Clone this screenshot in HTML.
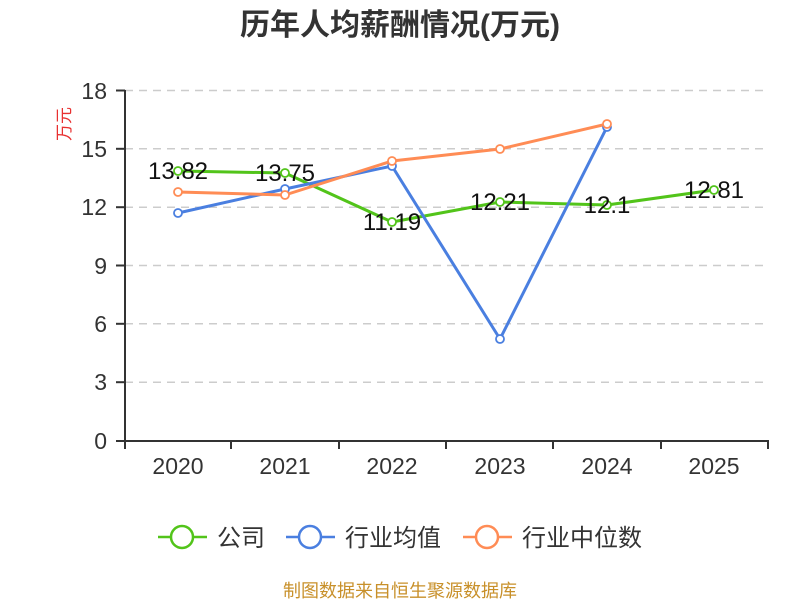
<!DOCTYPE html>
<html><head><meta charset="utf-8"><style>
html,body{margin:0;padding:0;background:#fff;}
svg{display:block;font-family:"Liberation Sans","Noto Sans CJK SC",sans-serif;}
</style></head><body>
<svg width="800" height="600" viewBox="0 0 800 600" xmlns="http://www.w3.org/2000/svg">
<text x="400" y="35" text-anchor="middle" font-size="30" font-weight="bold" fill="#333">历年人均薪酬情况(万元)</text>
<text transform="translate(70,124) rotate(-90)" text-anchor="middle" font-size="17" fill="#e83030">万元</text>
<g stroke="#ccc" stroke-width="1.5" stroke-dasharray="8,6">
<line x1="125" y1="90.5" x2="768" y2="90.5"/>
<line x1="125" y1="148.8" x2="768" y2="148.8"/>
<line x1="125" y1="207.2" x2="768" y2="207.2"/>
<line x1="125" y1="265.5" x2="768" y2="265.5"/>
<line x1="125" y1="323.8" x2="768" y2="323.8"/>
<line x1="125" y1="382.2" x2="768" y2="382.2"/>
</g>
<g stroke="#333" stroke-width="2">
<line x1="125" y1="90" x2="125" y2="441"/>
<line x1="124" y1="441" x2="769" y2="441"/>
<line x1="116" y1="90.5" x2="125" y2="90.5"/>
<line x1="116" y1="148.8" x2="125" y2="148.8"/>
<line x1="116" y1="207.2" x2="125" y2="207.2"/>
<line x1="116" y1="265.5" x2="125" y2="265.5"/>
<line x1="116" y1="323.8" x2="125" y2="323.8"/>
<line x1="116" y1="382.2" x2="125" y2="382.2"/>
<line x1="116" y1="441" x2="125" y2="441"/>
<line x1="125" y1="441" x2="125" y2="449"/>
<line x1="231" y1="441" x2="231" y2="449"/>
<line x1="339" y1="441" x2="339" y2="449"/>
<line x1="446" y1="441" x2="446" y2="449"/>
<line x1="553" y1="441" x2="553" y2="449"/>
<line x1="661" y1="441" x2="661" y2="449"/>
<line x1="768" y1="441" x2="768" y2="449"/>
</g>
<g font-size="23" fill="#333" text-anchor="end">
<text x="107" y="99">18</text><text x="107" y="157">15</text><text x="107" y="215">12</text>
<text x="107" y="274">9</text><text x="107" y="332">6</text><text x="107" y="390">3</text><text x="107" y="449">0</text>
</g>
<g font-size="23" fill="#333" text-anchor="middle">
<text x="178" y="474">2020</text><text x="285" y="474">2021</text><text x="392" y="474">2022</text>
<text x="500" y="474">2023</text><text x="607" y="474">2024</text><text x="714" y="474">2025</text>
</g>
<g fill="none" stroke-width="3" stroke-linejoin="round">
<polyline stroke="#52c41a" points="178,171 285,173 392,222 500,202 607,205 714,190"/>
<polyline stroke="#4a7fe0" points="178,213 285,189 392,166 500,339 607,127"/>
<polyline stroke="#ff8c55" points="178,192 285,195 392,161 500,149 607,124"/>
</g>
<g fill="#fff" stroke-width="1.8">
<g stroke="#52c41a"><circle cx="178" cy="171" r="4"/><circle cx="285" cy="173" r="4"/><circle cx="392" cy="222" r="4"/><circle cx="500" cy="202" r="4"/><circle cx="607" cy="205" r="4"/><circle cx="714" cy="190" r="4"/></g>
<g stroke="#4a7fe0"><circle cx="178" cy="213" r="4"/><circle cx="285" cy="189" r="4"/><circle cx="392" cy="166" r="4"/><circle cx="500" cy="339" r="4"/><circle cx="607" cy="127" r="4"/></g>
<g stroke="#ff8c55"><circle cx="178" cy="192" r="4"/><circle cx="285" cy="195" r="4"/><circle cx="392" cy="161" r="4"/><circle cx="500" cy="149" r="4"/><circle cx="607" cy="124" r="4"/></g>
</g>
<g font-size="24" fill="#111" text-anchor="middle">
<text x="178" y="179">13.82</text><text x="285" y="181">13.75</text><text x="392" y="230">11.19</text>
<text x="500" y="210">12.21</text><text x="607" y="213">12.1</text><text x="714" y="198">12.81</text>
</g>
<g stroke-width="2.5" fill="#fff">
<line x1="158" y1="537" x2="207" y2="537" stroke="#52c41a"/><circle cx="182" cy="537" r="11" stroke="#52c41a"/>
<line x1="286" y1="537" x2="335" y2="537" stroke="#4a7fe0"/><circle cx="310" cy="537" r="11" stroke="#4a7fe0"/>
<line x1="463" y1="537" x2="512" y2="537" stroke="#ff8c55"/><circle cx="487" cy="537" r="11" stroke="#ff8c55"/>
</g>
<g font-size="24" fill="#333">
<text x="217" y="546">公司</text><text x="345" y="546">行业均值</text><text x="522" y="546">行业中位数</text>
</g>
<text x="400" y="597" text-anchor="middle" font-size="18" fill="#c8902a">制图数据来自恒生聚源数据库</text>
</svg>
</body></html>
